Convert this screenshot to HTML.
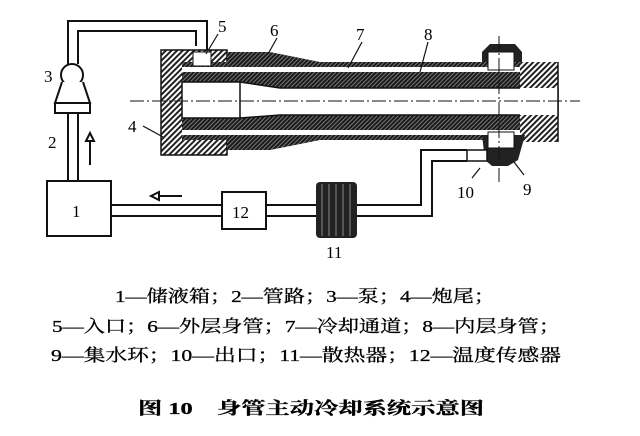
<!DOCTYPE html>
<html><head><meta charset="utf-8"><style>
body{margin:0;background:#fff;width:640px;height:436px;overflow:hidden}
svg{position:absolute;left:0;top:0}
.t{font-family:"Liberation Serif","Noto Serif CJK SC",serif;fill:#000}
</style></head><body>
<svg width="640" height="436" viewBox="0 0 640 436">
<defs>
<pattern id="h" width="4" height="4" patternUnits="userSpaceOnUse" patternTransform="rotate(45)">
<rect width="4" height="4" fill="#fff"/><rect width="2" height="4" fill="#222"/></pattern>
<pattern id="d" width="3" height="3" patternUnits="userSpaceOnUse" patternTransform="rotate(45)">
<rect width="3" height="3" fill="#1a1a1a"/><rect width="1" height="3" fill="#777"/></pattern>
</defs>
<g fill="none" stroke="#111" stroke-width="2">
<polyline points="68,64 68,21 207,21 207,50"/>
<polyline points="78,64 78,31 196,31 196,46"/>
<circle cx="72" cy="75" r="11" fill="#fff"/>
<path d="M62,82 L55,103 L90,103 L83,82" fill="#fff"/>
<rect x="55" y="103" width="35" height="10" fill="#fff"/>
<line x1="68" y1="113" x2="68" y2="181"/><line x1="78" y1="113" x2="78" y2="181"/>
<rect x="47" y="181" width="64" height="55"/>
<line x1="111" y1="205" x2="222" y2="205"/><line x1="111" y1="216" x2="222" y2="216"/>
<rect x="222" y="192" width="44" height="37"/>
<line x1="266" y1="205" x2="316" y2="205"/><line x1="266" y1="216" x2="316" y2="216"/>
<polyline points="357,205 421,205 421,150 467,150"/>
<polyline points="357,216 432,216 432,161 467,161"/>
</g>
<g stroke="#111" stroke-width="2" fill="#fff">
<line x1="90" y1="140" x2="90" y2="165"/><path d="M86,141 L90,133 L94,141Z"/>
<line x1="158" y1="196" x2="182" y2="196"/><path d="M159,192 L151,196 L159,200Z"/>
</g>
<rect x="316" y="182" width="41" height="56" rx="4" fill="#222"/>
<g stroke="#888" stroke-width="1"><line x1="322" y1="184" x2="322" y2="236"/><line x1="329" y1="184" x2="329" y2="236"/><line x1="336" y1="184" x2="336" y2="236"/><line x1="343" y1="184" x2="343" y2="236"/><line x1="350" y1="184" x2="350" y2="236"/></g>
<rect x="161" y="50" width="66" height="105" fill="url(#h)" stroke="#111" stroke-width="1.5"/>
<path d="M182,62 L240,62 L280,70 L558,70 L558,132 L280,132 L240,140 L182,140Z" fill="url(#d)"/>
<path d="M227,52 L270,52 L320,62 L558,62 L558,72 L227,72Z" fill="url(#d)"/>
<path d="M227,150 L270,150 L320,140 L558,140 L558,130 L227,130Z" fill="url(#d)"/>
<rect x="182" y="67" width="376" height="5" fill="#fff"/>
<rect x="182" y="130" width="376" height="5" fill="#fff"/>
<path d="M182,82 L240,82 L280,88 L558,88 L558,115 L280,115 L240,118 L182,118Z" fill="#fff" stroke="#111" stroke-width="1.5"/>
<line x1="240" y1="82" x2="240" y2="118" stroke="#111" stroke-width="1.5"/>
<rect x="520" y="62" width="38" height="80" fill="url(#h)"/>
<rect x="520" y="88" width="38" height="27" fill="#fff"/>
<line x1="558" y1="62" x2="558" y2="142" stroke="#111" stroke-width="1.5"/>
<path d="M482,62 L482,52 L490,44 L515,44 L522,52 L522,62Z" fill="#222"/>
<rect x="488" y="52" width="26" height="18" fill="#fff" stroke="#111"/>
<path d="M482,135 L525,135 L518,160 L508,166 L492,166 L485,160Z" fill="#222"/>
<rect x="488" y="132" width="26" height="16" fill="#fff" stroke="#111"/>
<rect x="467" y="150" width="20" height="11" fill="#fff" stroke="#111" stroke-width="1.5"/>
<rect x="193" y="52" width="18" height="14" fill="#fff" stroke="#111"/>
<g stroke="#111" stroke-width="1" stroke-dasharray="14,3,2,3">
<line x1="130" y1="101" x2="580" y2="101"/>
<line x1="499" y1="36" x2="499" y2="182"/>
</g>
<g stroke="#111" stroke-width="1.2">
<line x1="218" y1="34" x2="206" y2="54"/>
<line x1="277" y1="38" x2="268" y2="54"/>
<line x1="362" y1="42" x2="348" y2="68"/>
<line x1="428" y1="42" x2="420" y2="72"/>
<line x1="143" y1="126" x2="163" y2="137"/>
<line x1="480" y1="168" x2="472" y2="178"/>
<line x1="514" y1="162" x2="524" y2="175"/>
</g>
<g class="t" font-size="17">
<text x="218" y="32">5</text><text x="270" y="36">6</text><text x="356" y="40">7</text><text x="424" y="40">8</text>
<text x="44" y="82">3</text><text x="128" y="132">4</text><text x="48" y="148">2</text>
<text x="72" y="217">1</text><text x="232" y="218">12</text><text x="326" y="258">11</text>
<text x="457" y="198">10</text><text x="523" y="195">9</text>
</g>
<g class="t" font-size="17" text-anchor="middle" stroke="#000" stroke-width="0.3">
<text x="305" y="302" textLength="380" lengthAdjust="spacingAndGlyphs">1—储液箱；2—管路；3—泵；4—炮尾；</text>
<text x="306" y="332" textLength="508" lengthAdjust="spacingAndGlyphs">5—入口；6—外层身管；7—冷却通道；8—内层身管；</text>
<text x="306" y="361" textLength="510" lengthAdjust="spacingAndGlyphs">9—集水环；10—出口；11—散热器；12—温度传感器</text>
<text x="311" y="414" font-weight="bold" textLength="346" lengthAdjust="spacingAndGlyphs">图 10　身管主动冷却系统示意图</text>
</g>
</svg>
</body></html>
